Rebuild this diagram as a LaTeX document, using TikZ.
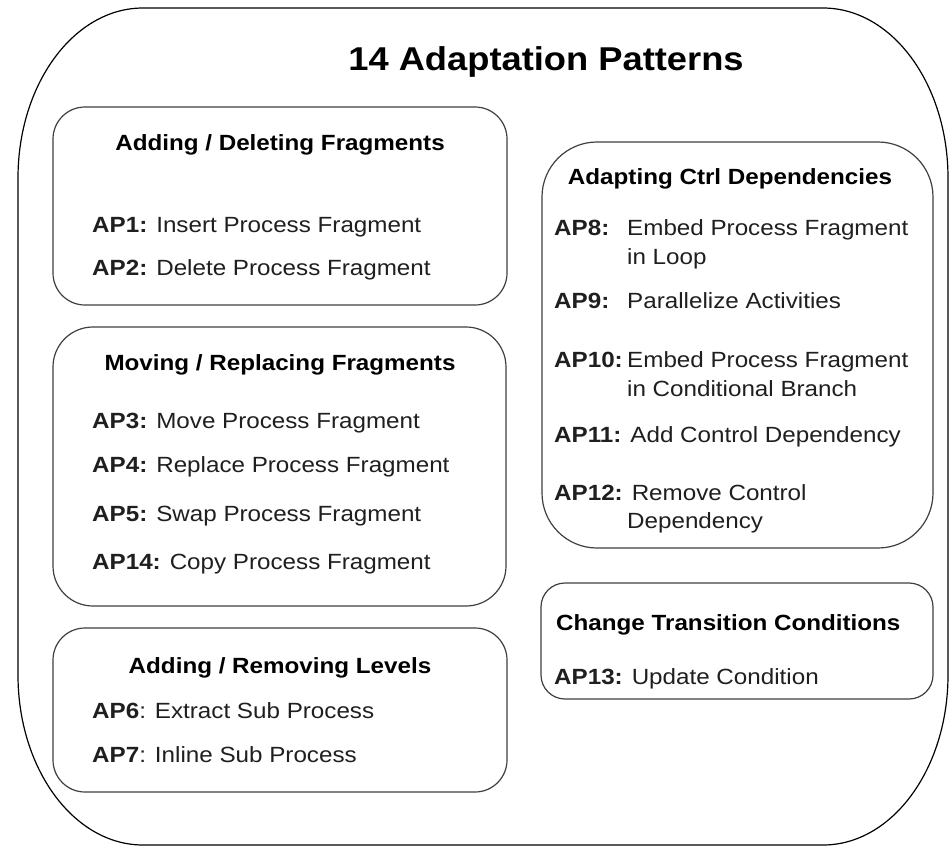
\documentclass[tikz,border=0pt]{standalone}
\usepackage{fontspec}
\setmainfont{Liberation Sans}[FakeStretch=1.1]
\begin{document}
\begin{tikzpicture}[x=1pt,y=-1pt,
  panel/.style={draw=black!75, line width=1.2pt, inner sep=0pt, minimum width=#1},
  item/.style={anchor=base west, inner sep=0pt, text=black!88,
    font=\fontsize{22}{29}\selectfont},
  head/.style={anchor=base, inner sep=0pt, font=\fontsize{22}{29}\selectfont\bfseries},
  frame/.style={draw=black, line width=1.2pt}]
\useasboundingbox[fill=white] (0,0) rectangle (951,847);

% outer frame with elliptical corners
\draw[frame] (143,8) -- (823,8)
  .. controls (892,8) and (948,84) .. (948,178) -- (948,675)
  .. controls (948,769) and (892,845) .. (823,845) -- (143,845)
  .. controls (74,845) and (18,769) .. (18,675) -- (18,178)
  .. controls (18,84) and (74,8) .. (143,8) -- cycle;

\node[anchor=base, inner sep=0pt, font=\fontsize{33}{40}\selectfont\bfseries]
  (title) at (546,70) {14 Adaptation Patterns};

% group panels
\node[panel=454pt, minimum height=198pt, rounded corners=32pt] (b1) at (280,206) {};
\node[panel=453pt, minimum height=279pt, rounded corners=40pt] (b2) at (279.5,466.5) {};
\node[panel=454pt, minimum height=164pt, rounded corners=32pt] (b3) at (280,710) {};
\node[panel=391pt, minimum height=406pt, rounded corners=55pt] (b4) at (737.5,345) {};
\node[panel=392pt, minimum height=116pt, rounded corners=24pt] (b5) at (737,641) {};

% Adding / Deleting Fragments
\node[head] (h1) at (280,150) {Adding / Deleting Fragments};
\node[item] (ap1) at (92,232) {\textbf{AP1:} Insert Process Fragment};
\node[item] (ap2) at (92,275) {\textbf{AP2:} Delete Process Fragment};

% Moving / Replacing Fragments
\node[head] (h2) at (280,370) {Moving / Replacing Fragments};
\node[item] (ap3) at (92,428) {\textbf{AP3:} Move Process Fragment};
\node[item] (ap4) at (92,472) {\textbf{AP4:} Replace Process Fragment};
\node[item] (ap5) at (92,521) {\textbf{AP5:} Swap Process Fragment};
\node[item] (ap14) at (92,569) {\textbf{AP14:} Copy Process Fragment};

% Adding / Removing Levels
\node[head] (h3) at (280,673) {Adding / Removing Levels};
\node[item] (ap6) at (92,718) {\textbf{AP6}: Extract Sub Process};
\node[item] (ap7) at (92,762) {\textbf{AP7}: Inline Sub Process};

% Adapting Ctrl Dependencies
\node[head] (h4) at (730,184) {Adapting Ctrl Dependencies};
\node[item] (ap8l) at (554,235) {\textbf{AP8:}};
\node[item] (ap8) at (627,235) {Embed Process Fragment};
\node[item] (ap8b) at (627,264) {in Loop};
\node[item] (ap9l) at (554,308) {\textbf{AP9:}};
\node[item] (ap9) at (627,308) {Parallelize Activities};
\node[item] (ap10l) at (554,367) {\textbf{AP10:}};
\node[item] (ap10) at (627,367) {Embed Process Fragment};
\node[item] (ap10b) at (627,396) {in Conditional Branch};
\node[item] (ap11) at (554,442) {\textbf{AP11:} Add Control Dependency};
\node[item] (ap12) at (554,500) {\textbf{AP12:} Remove Control};
\node[item] (ap12b) at (627,528) {Dependency};

% Change Transition Conditions
\node[head, anchor=base west] (h5) at (556,630) {Change Transition Conditions};
\node[item] (ap13) at (554,684) {\textbf{AP13:} Update Condition};
\end{tikzpicture}
\end{document}
